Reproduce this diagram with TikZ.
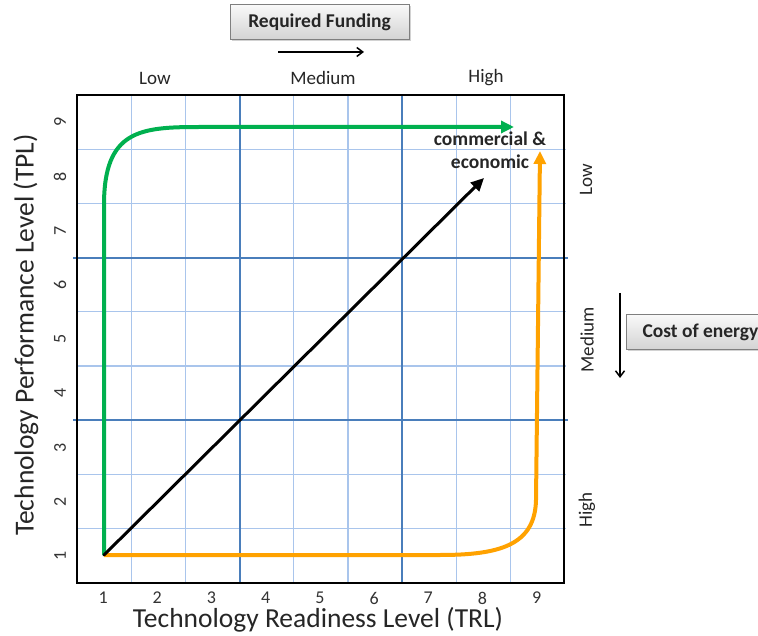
\documentclass[tikz,border=0pt]{standalone}
\usepackage{fontspec}
\setmainfont{Carlito}
\usetikzlibrary{arrows.meta,shadows}
\definecolor{gridlight}{HTML}{A9C5EC}
\definecolor{griddark}{HTML}{4A7EBB}
\definecolor{curvegreen}{HTML}{00B04F}
\definecolor{curveorange}{HTML}{FFA200}
\definecolor{boxedge}{HTML}{7F7F7F}
\begin{document}
\begin{tikzpicture}[x=1pt,y=-1pt,
  lightline/.style={draw=gridlight,line width=1.2pt},
  darkline/.style={draw=griddark,line width=2pt},
  ticklab/.style={font=\fontsize{18}{20}\selectfont,text=black!80,inner sep=0pt},
  axtitle/.style={font=\fontsize{27.5}{31}\selectfont,text=black!85,inner sep=0pt},
  levellab/.style={font=\fontsize{19}{22}\selectfont,text=black!85},
  graybox/.style={draw=boxedge,line width=1pt,top color=gray!5,bottom color=gray!35,
    drop shadow={shadow xshift=1.5pt,shadow yshift=-1.5pt,opacity=0.35},
    font=\bfseries\fontsize{19.5}{22}\selectfont,text=black!85,minimum height=35pt},
  thinarrow/.style={draw=black,line width=1.5pt,-{Straight Barb[length=6pt,width=9pt]}},
  bigtip/.style={-{Triangle[length=13pt,width=12pt]}}
]
\useasboundingbox (0,0) rectangle (758,636);
\fill[white] (0,0) rectangle (758,636);
% grid
\foreach \i in {1,2,4,5,7,8} {
  \draw[lightline] ({77+54.2*\i},95) -- ({77+54.2*\i},583);
  \draw[lightline] (77,{95+54.2*\i}) -- (566,{95+54.2*\i});
}
\foreach \i in {3,6} {
  \draw[darkline] ({77+54.2*\i},95) -- ({77+54.2*\i},583);
  \draw[darkline] (73,{95+54.2*\i}) -- (568,{95+54.2*\i});
}
% plot frame
\draw[black,line width=2.5pt] (77,95) rectangle (564,583);
% tick labels
\foreach \k in {1,...,9} {
  \node[ticklab] (xt\k) at ({77+54.2*(\k-0.5)-1},598) {\k};
  \node[ticklab,rotate=90] (yt\k) at (60,{583-54.2*(\k-0.5)}) {\k};
}
% axis titles
\node[axtitle] (xtitle) at (318,620) {Technology Readiness Level (TRL)};
\node[axtitle,rotate=90] (ytitle) at (26,335) {Technology Performance Level (TPL)};
% level labels
\node[levellab] (tlow) at (155,78) {Low};
\node[levellab] (tmed) at (323,78) {Medium};
\node[levellab] (thigh) at (486,78) {High};
\node[levellab,rotate=90] (rlow) at (586,180) {Low};
\node[levellab,rotate=90] (rmed) at (587,340) {Medium};
\node[levellab,rotate=90] (rhigh) at (587,510) {High};
% boxes
\node[graybox,minimum width=179pt] (funding) at (319.5,22.5) {Required Funding};
\node[graybox,anchor=west,inner xsep=16pt] (cost) at (626,332.5) {Cost of energy\hspace{4pt}};
% arrows
\coordinate (fa1) at (278,52);
\coordinate (fa2) at (364,52);
\draw[thinarrow] (fa1) -- (fa2);
\coordinate (ca1) at (620,293);
\coordinate (ca2) at (620,378);
\draw[thinarrow] (ca1) -- (ca2);
% curves
\coordinate (origin) at (104,555);
\coordinate (gtip) at (514,127);
\coordinate (otip) at (540,151);
\coordinate (btip) at (484,178);
\draw[curvegreen,line width=4pt,bigtip] (origin) -- (104,205)
  .. controls (104,130) and (140,127) .. (200,127) -- (gtip);
\draw[curveorange,line width=4pt,bigtip,line join=round] (origin) -- (440,555)
  .. controls (500,555) and (535,545) .. (536,500) -- (otip);
\draw[black,line width=3pt,bigtip,line cap=round] (origin) -- (btip);
% label
\node[font=\bfseries\fontsize{19.5}{23}\selectfont,text=black!85,align=center] (ce) at (490,150) {commercial \&\\economic};
\end{tikzpicture}
\end{document}
